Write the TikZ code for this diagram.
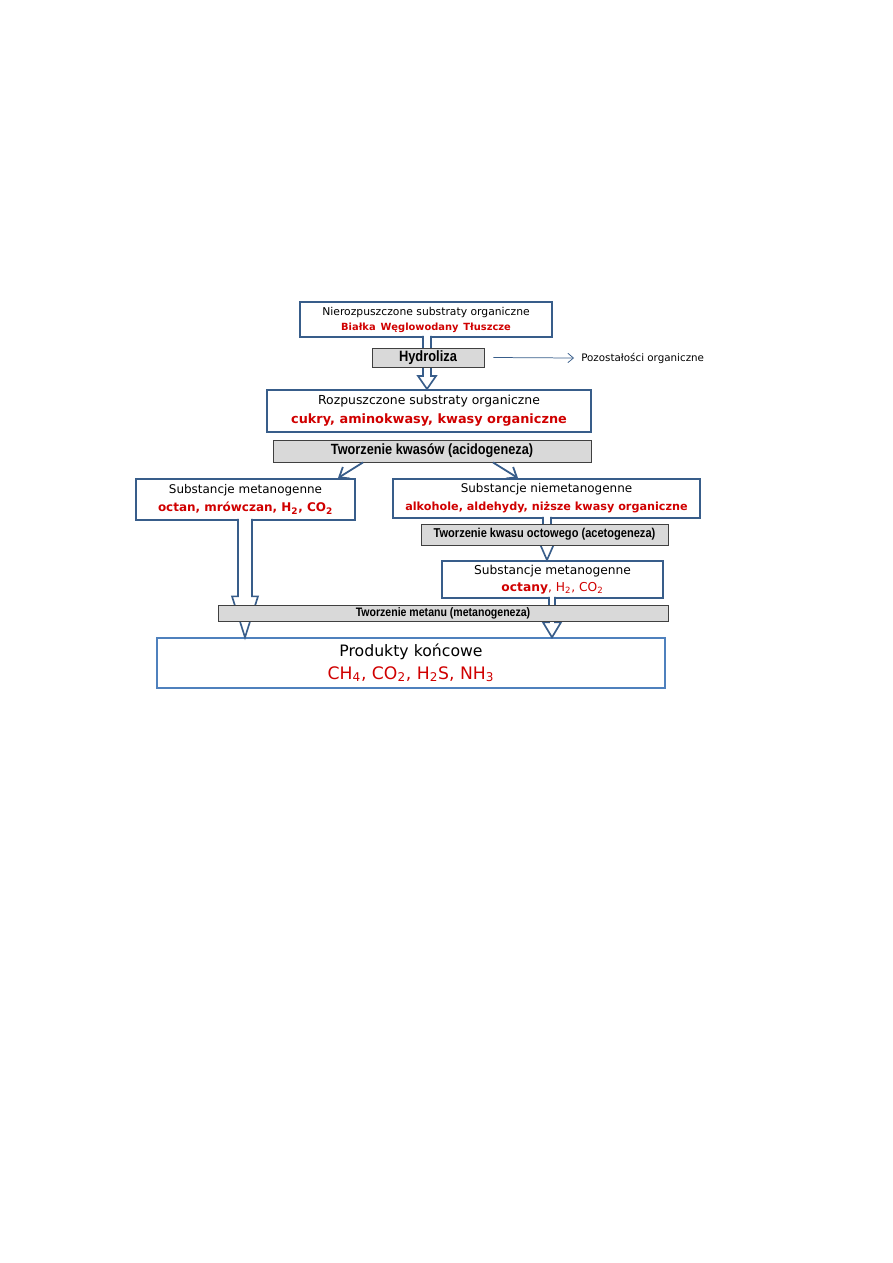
\documentclass[tikz,border=0pt]{standalone}
\usepackage{fontspec}
\setmainfont{DejaVu Sans}
\newfontfamily\barfont[FakeStretch=0.86]{Liberation Sans}
\usetikzlibrary{arrows.meta,calc}
\definecolor{boxblue}{HTML}{385D8A}
\definecolor{endblue}{HTML}{4F81BD}
\definecolor{txtred}{HTML}{D00000}
\definecolor{bargray}{HTML}{D9D9D9}
\newcommand{\sz}[2]{\fontsize{#1}{#2}\selectfont}
\tikzset{
  dims/.style 2 args={minimum width=#1*0.0235cm, minimum height=#2*0.0235cm},
  subbox/.style={draw=boxblue, line width=1.3pt, fill=white, align=center, inner sep=0pt},
  endbox/.style={subbox, draw=endblue, line width=.9pt},
  stagebar/.style={draw=black!75, line width=.6pt, fill=bargray, inner sep=0pt},
  blockarr/.style={draw=boxblue, line width=1.1pt, fill=white, line join=miter},
  diagar/.style={-{Straight Barb[length=2mm,width=3.2mm]}, line width=1.2pt, draw=boxblue},
  thinar/.style={-{Straight Barb[length=1.3mm,width=2.2mm]}, line width=.5pt, draw=boxblue},
  red/.style={text=txtred},
}
% hollow block arrow: x, from node, to node, shaft half, head half, head length
\newcommand{\blkarrow}[6]{%
  \path[blockarr] ($(#1,0 |- #2.south)+(-#4,-2)$) -- ($(#1,0 |- #3.north)+(-#4,-#6)$)
    -- ($(#1,0 |- #3.north)+(-#5,-#6)$) -- (#1,0 |- #3.north)
    -- ($(#1,0 |- #3.north)+(#5,-#6)$) -- ($(#1,0 |- #3.north)+(#4,-#6)$)
    -- ($(#1,0 |- #2.south)+(#4,-2)$);
}
\begin{document}
\begin{tikzpicture}[x=0.0235cm, y=-0.0235cm]
  \useasboundingbox (0,0) rectangle (893,1263);

  % substraty i produkty
  \node[subbox, dims={252}{35}, font=\sz{7.2}{10}] (nieroz) at (426,319.5)
    {Nierozpuszczone substraty organiczne\\{\color{txtred}\bfseries\sz{6.6}{10}Białka\enspace Węglowodany\enspace Tłuszcze}};
  \node[subbox, dims={324}{42}, font=\sz{8.3}{12.7}] (rozp) at (429,411)
    {Rozpuszczone substraty organiczne\\{\color{txtred}\bfseries\sz{8.6}{12.7}cukry, aminokwasy, kwasy organiczne}};
  \node[subbox, dims={219}{41}, font=\sz{8}{12}] (metan) at (245.5,499.5)
    {Substancje metanogenne\\{\color{txtred}\bfseries\sz{8}{12}octan, mrówczan, H\textsubscript{2}, CO\textsubscript{2}}};
  \node[subbox, dims={307}{39}, font=\sz{8}{12}] (niemetan) at (546.5,498.5)
    {Substancje niemetanogenne\\{\color{txtred}\bfseries\sz{7.5}{12}alkohole, aldehydy, niższe kwasy organiczne}};
  \node[subbox, dims={221}{37}, font=\sz{8.2}{11.5}] (octany) at (552.5,579.5)
    {Substancje metanogenne\\{\color{txtred}\sz{8.2}{11.5}\textbf{octany}, H\textsubscript{2}, CO\textsubscript{2}}};
  \node[endbox, dims={508}{50}, font=\sz{10.5}{15}] (koncowe) at (411,663)
    {Produkty końcowe\\{\color{txtred}\sz{11.5}{15}CH\textsubscript{4}, CO\textsubscript{2}, H\textsubscript{2}S, NH\textsubscript{3}}};

  % strzalki blokowe
  \blkarrow{427}{nieroz}{rozp}{4}{9}{13}
  \blkarrow{245}{metan}{koncowe}{7}{13}{41}
  \blkarrow{547}{niemetan}{octany}{4}{7}{16}
  \blkarrow{552}{octany}{koncowe}{3}{9}{15}

  % etapy
  \node[stagebar, dims={112}{19}, font=\barfont\bfseries\sz{10}{12}] (hydro) at (428,357.5) {Hydroliza};
  \node[stagebar, dims={318}{22}, font=\barfont\bfseries\sz{9.9}{12}] (acid) at (432,451) {Tworzenie kwasów (acidogeneza)};
  \node[stagebar, dims={247}{21}, font=\barfont\bfseries\sz{8.6}{10}] (acet) at (544.5,534.5) {Tworzenie kwasu octowego (acetogeneza)};
  \node[stagebar, dims={450}{16}, font=\barfont\bfseries\sz{8.2}{10}] (meta) at (443,613) {Tworzenie metanu (metanogeneza)};

  \node[anchor=west, inner sep=0pt, font=\sz{6.9}{8}] (reszta) at (581,358) {Pozostałości organiczne};
  \draw[thinar] ($(hydro.east)+(9,0)$) -- ($(reszta.west)+(-7,0)$);

  \draw[diagar] (363,0 |- acid.south) -- (338,0 |- metan.north);
  \draw[diagar] (493,0 |- acid.south) -- (518,0 |- niemetan.north);
\end{tikzpicture}
\end{document}
